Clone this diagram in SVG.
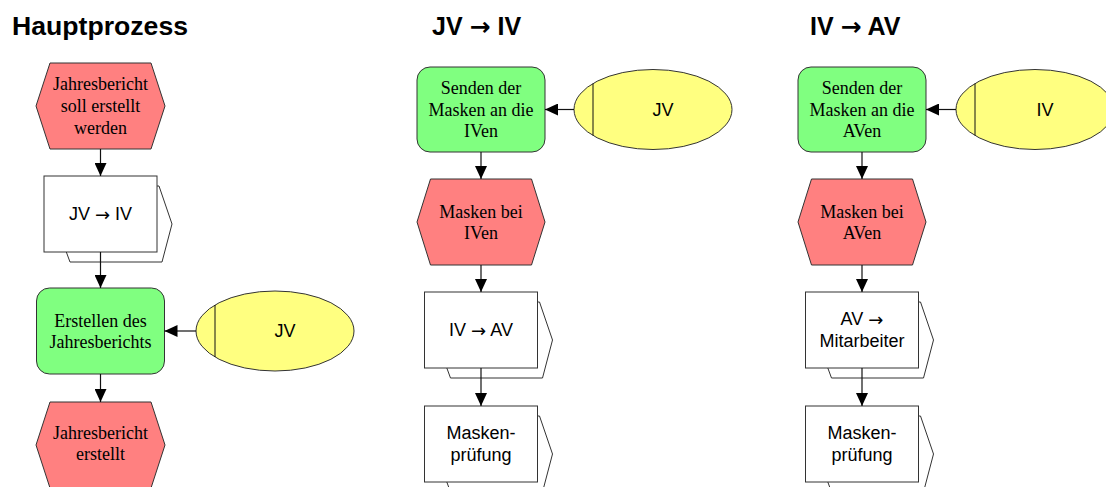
<svg xmlns="http://www.w3.org/2000/svg" width="1106" height="487" viewBox="0 0 1106 487">
<defs>
<style>
.ev{fill:#FF8080;stroke:#333;stroke-width:1}
.fn{fill:#80FF80;stroke:#333;stroke-width:1}
.org{fill:#FFFF80;stroke:#333;stroke-width:1}
.pb{fill:#fff;stroke:#333;stroke-width:1}
.ln{stroke:#111;stroke-width:1;fill:none}
.cn{stroke:#111;stroke-width:1.2;fill:none;marker-end:url(#ah)}
.ser{font-family:"Liberation Serif","Times New Roman",serif;font-size:18px;fill:#000;text-anchor:middle;dominant-baseline:central}
.san{font-family:"Liberation Sans",Arial,sans-serif;font-size:18px;fill:#000;text-anchor:middle;dominant-baseline:central}
.ttl{font-family:"Liberation Sans",Arial,sans-serif;font-size:25px;font-weight:bold;fill:#000}
.arr{font-family:"Noto Sans","DejaVu Sans",sans-serif}
</style>
<marker id="ah" markerUnits="userSpaceOnUse" markerWidth="14" markerHeight="12" refX="13" refY="6" orient="auto">
<path d="M0,0 L13,6 L0,12 Z" fill="#000"/>
</marker>
</defs>
<rect width="1106" height="487" fill="#fff"/>

<g id="titles">
<text class="ttl" x="12" y="35" textLength="176" lengthAdjust="spacingAndGlyphs">Hauptprozess</text>
<text class="ttl" x="432" y="35">JV <tspan class="arr">→</tspan> IV</text>
<text class="ttl" x="810" y="35">IV <tspan class="arr">→</tspan> AV</text>
</g>

<!-- Column 1 -->
<g id="ev1">
<polygon class="ev" points="50,63 151,63 165,106 151,149 50,149 36,106"/>
<text class="ser" x="100.5" y="84">Jahresbericht</text>
<text class="ser" x="100.5" y="106">soll erstellt</text>
<text class="ser" x="100.5" y="128">werden</text>
</g>
<g id="pi1">
<polygon class="pb" points="60,186 159,186 172,224 162,262 70,262 56,224"/>
<rect class="pb" x="44" y="176" width="113" height="76"/>
<text class="san" x="100.5" y="214">JV <tspan class="arr">→</tspan> IV</text>
</g>
<g id="fn1">
<rect class="fn" x="36.5" y="288" width="128" height="86" rx="13" ry="13"/>
<text class="ser" x="100.5" y="320.5">Erstellen des</text>
<text class="ser" x="100.5" y="341.5">Jahresberichts</text>
</g>
<g id="org1">
<ellipse class="org" cx="275" cy="331" rx="79" ry="40"/>
<line class="ln" x1="215" y1="305" x2="215" y2="357"/>
<text class="san" x="285" y="331">JV</text>
</g>
<g id="ev2">
<polygon class="ev" points="50,402 151,402 165,445 151,488 50,488 36,445"/>
<text class="ser" x="100.5" y="433">Jahresbericht</text>
<text class="ser" x="100.5" y="454">erstellt</text>
</g>

<!-- Column 2 -->
<g id="fn2">
<rect class="fn" x="417" y="67" width="128" height="85" rx="13" ry="13"/>
<text class="ser" x="481" y="88">Senden der</text>
<text class="ser" x="481" y="109.5">Masken an die</text>
<text class="ser" x="481" y="131">IVen</text>
</g>
<g id="org2">
<ellipse class="org" cx="653" cy="109.5" rx="79" ry="40"/>
<line class="ln" x1="593" y1="83.5" x2="593" y2="135.5"/>
<text class="san" x="663" y="109.5">JV</text>
</g>
<g id="ev3">
<polygon class="ev" points="430.5,179 531.5,179 545,222 531.5,265 430.5,265 417,222"/>
<text class="ser" x="481" y="211.5">Masken bei</text>
<text class="ser" x="481" y="232.5">IVen</text>
</g>
<g id="pi2">
<polygon class="pb" points="440.5,302 539.5,302 552.5,340 542.5,378 450.5,378 436.5,340"/>
<rect class="pb" x="424.5" y="292" width="113" height="76"/>
<text class="san" x="481" y="330">IV <tspan class="arr">→</tspan> AV</text>
</g>
<g id="pi3">
<polygon class="pb" points="440.5,416 539.5,416 552.5,454 542.5,492 450.5,492 436.5,454"/>
<rect class="pb" x="424.5" y="406" width="113" height="76"/>
<text class="san" x="481" y="433">Masken-</text>
<text class="san" x="481" y="455">prüfung</text>
</g>

<!-- Column 3 -->
<g id="fn3">
<rect class="fn" x="798" y="67" width="128" height="85" rx="13" ry="13"/>
<text class="ser" x="862" y="88">Senden der</text>
<text class="ser" x="862" y="109.5">Masken an die</text>
<text class="ser" x="862" y="131">AVen</text>
</g>
<g id="org3">
<ellipse class="org" cx="1035" cy="109.5" rx="79" ry="40"/>
<line class="ln" x1="975" y1="83.5" x2="975" y2="135.5"/>
<text class="san" x="1045" y="109.5">IV</text>
</g>
<g id="ev4">
<polygon class="ev" points="811.5,179 912.5,179 926,222 912.5,265 811.5,265 798,222"/>
<text class="ser" x="862" y="211.5">Masken bei</text>
<text class="ser" x="862" y="232.5">AVen</text>
</g>
<g id="pi4">
<polygon class="pb" points="821.5,302 920.5,302 933.5,340 923.5,378 831.5,378 817.5,340"/>
<rect class="pb" x="805.5" y="292" width="113" height="76"/>
<text class="san" x="862" y="319">AV <tspan class="arr">→</tspan></text>
<text class="san" x="862" y="341">Mitarbeiter</text>
</g>
<g id="pi5">
<polygon class="pb" points="821.5,416 920.5,416 933.5,454 923.5,492 831.5,492 817.5,454"/>
<rect class="pb" x="805.5" y="406" width="113" height="76"/>
<text class="san" x="862" y="433">Masken-</text>
<text class="san" x="862" y="455">prüfung</text>
</g>

<g id="connectors">
<line class="cn" x1="100.5" y1="149" x2="100.5" y2="176"/>
<line class="cn" x1="100.5" y1="252" x2="100.5" y2="288"/>
<line class="cn" x1="100.5" y1="374" x2="100.5" y2="402"/>
<line class="cn" x1="196" y1="331" x2="164.5" y2="331"/>
<line class="cn" x1="481" y1="152" x2="481" y2="179"/>
<line class="cn" x1="481" y1="265" x2="481" y2="292"/>
<line class="cn" x1="481" y1="368" x2="481" y2="406"/>
<line class="cn" x1="574" y1="109.5" x2="545" y2="109.5"/>
<line class="cn" x1="862" y1="152" x2="862" y2="179"/>
<line class="cn" x1="862" y1="265" x2="862" y2="292"/>
<line class="cn" x1="862" y1="368" x2="862" y2="406"/>
<line class="cn" x1="956" y1="109.5" x2="926" y2="109.5"/>
</g>
</svg>
